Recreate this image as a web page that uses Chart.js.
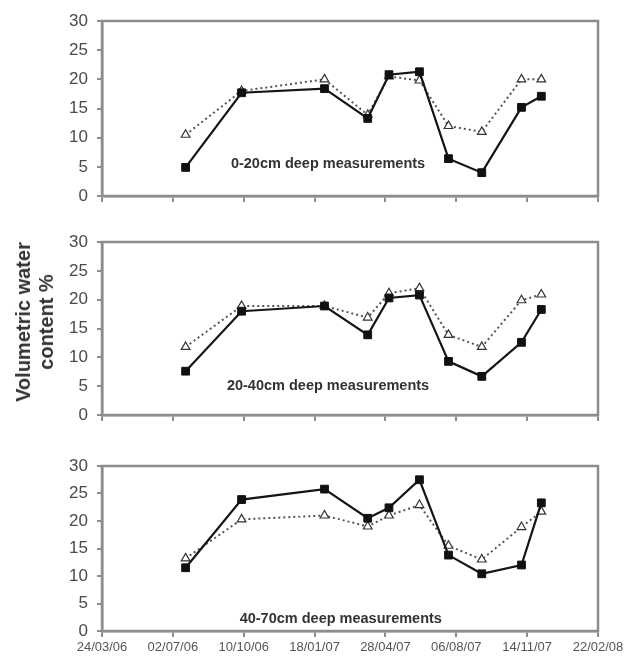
<!DOCTYPE html>
<html>
<head>
<meta charset="utf-8">
<script src="https://cdn.jsdelivr.net/npm/chart.js@4.4.1/dist/chart.umd.min.js"></script>
<style>
html,body{margin:0;padding:0;background:#fff;}
#wrap{position:relative;width:624px;height:656px;overflow:hidden;font-family:"Liberation Sans",Arial,sans-serif;}
#wrap canvas{position:absolute;left:0;}
#ytitle{position:absolute;left:35px;top:322px;transform:translate(-50%,-50%) rotate(-90deg);font-weight:bold;font-size:20px;line-height:23px;text-align:center;white-space:nowrap;color:#333;}
</style>
</head>
<body>
<div id="wrap">
  <canvas id="c1" width="624" height="215" style="top:0px"></canvas>
  <canvas id="c2" width="624" height="220" style="top:215px"></canvas>
  <canvas id="c3" width="624" height="221" style="top:435px"></canvas>
  <div id="ytitle">Volumetric water<br>content %</div>
</div>
<script>
// ---- data ----
const axisStart = '2006-03-24';
const xTickLabels = ['24/03/06','02/07/06','10/10/06','18/01/07','28/04/07','06/08/07','14/11/07','22/02/08'];
const sampleDates = ['2006-07-20','2006-10-07','2007-02-01','2007-04-03','2007-05-03','2007-06-15','2007-07-26','2007-09-11','2007-11-06','2007-12-04'];

const depth0to20Solid   = [4.9, 17.7, 18.4, 13.3, 20.8, 21.3, 6.4, 4.0, 15.2, 17.1];
const depth0to20Dotted  = [10.5, 18.0, 20.0, 13.9, 20.5, 19.8, 12.0, 11.0, 20.0, 20.0];
const depth20to40Solid  = [7.6, 18.0, 18.9, 13.9, 20.3, 20.8, 9.3, 6.7, 12.6, 18.3];
const depth20to40Dotted = [11.8, 18.9, 18.9, 16.9, 21.1, 22.0, 13.9, 11.8, 19.9, 20.9];
const depth40to70Solid  = [11.5, 23.9, 25.8, 20.5, 22.4, 27.5, 13.8, 10.4, 12.0, 23.3];
const depth40to70Dotted = [13.2, 20.3, 21.0, 19.0, 21.0, 22.9, 15.5, 13.0, 18.9, 21.7];

const panelLabels = ['0-20cm deep measurements','20-40cm deep measurements','40-70cm deep measurements'];

// ---- helpers ----
const DAY = 86400000;
function toUTC(s){const p=s.split('-').map(Number);return Date.UTC(p[0],p[1]-1,p[2]);}
const t0 = toUTC(axisStart);
const sampleDays = sampleDates.map(d => Math.round((toUTC(d)-t0)/DAY));
function pts(vals){return vals.map((v,i)=>({x:sampleDays[i], y:v}));}

const frameColor = '#8d8d8d';
const framePlugin = {
  id:'frame',
  beforeDatasetsDraw(chart){
    const a = chart.chartArea, ctx = chart.ctx;
    ctx.save();
    ctx.strokeStyle = frameColor;
    ctx.lineWidth = 2.5;
    ctx.strokeRect(a.left, a.top, a.right-a.left, a.bottom-a.top);
    ctx.restore();
  },
  afterDatasetsDraw(chart, args, opts){
    if(!opts.text) return;
    const ctx = chart.ctx;
    const x = chart.scales.x.getPixelForValue(opts.at[0]);
    const y = chart.scales.y.getPixelForValue(opts.at[1]);
    ctx.save();
    ctx.font = 'bold 14.5px "Liberation Sans", Arial, sans-serif';
    ctx.fillStyle = '#333';
    ctx.textAlign = 'center';
    ctx.textBaseline = 'middle';
    ctx.fillText(opts.text, x, y);
    ctx.restore();
  }
};

function makeChart(id, solid, dotted, label, labelAt, topPad, xHeight, showX){
  return new Chart(document.getElementById(id), {
    type:'line',
    data:{datasets:[
      {data:pts(solid), borderColor:'#151515', borderWidth:2.2, pointStyle:'rect', pointRadius:5.5,
       pointBackgroundColor:'#111', pointBorderColor:'#111', pointBorderWidth:1, tension:0, fill:false},
      {data:pts(dotted), borderColor:'#555', borderWidth:2, borderDash:[2,3], pointStyle:'triangle', pointRadius:5,
       pointBackgroundColor:'#fff', pointBorderColor:'#333', pointBorderWidth:1.2, tension:0, fill:false}
    ]},
    options:{
      responsive:false, devicePixelRatio:1, animation:false,
      layout:{padding:{top:topPad, right:26, left:0, bottom:0}},
      plugins:{legend:{display:false}, tooltip:{enabled:false}, frame:{text:label, at:labelAt}},
      scales:{
        x:{type:'linear', min:0, max:700,
           grid:{drawOnChartArea:false, drawTicks:true, tickLength:6, color:frameColor, lineWidth:2},
           border:{color:frameColor, width:2.5},
           ticks:{stepSize:100, autoSkip:false, maxRotation:0, padding:3, color: showX ? '#555' : 'rgba(0,0,0,0)',
                  font:{size:13, family:'"Liberation Sans", Arial, sans-serif'},
                  callback:(v)=> xTickLabels[Math.round(v/100)] ?? ''},
           afterFit(s){s.height = xHeight; s.paddingLeft = 0; s.paddingRight = 0;}
        },
        y:{min:0, max:30,
           grid:{drawOnChartArea:false, drawTicks:true, tickLength:5, color:frameColor, lineWidth:2},
           border:{color:frameColor, width:2.5},
           ticks:{stepSize:5, padding:9, color:'#4a4a4a', font:{size:17, family:'"Liberation Sans", Arial, sans-serif'}},
           afterFit(s){s.width = 102; s.paddingTop = 0; s.paddingBottom = 0;}
        }
      }
    },
    plugins:[framePlugin]
  });
}

makeChart('c1', depth0to20Solid, depth0to20Dotted, panelLabels[0], [319, 5.5], 21, 19, false);
makeChart('c2', depth20to40Solid, depth20to40Dotted, panelLabels[1], [319, 5.1], 27, 20, false);
makeChart('c3', depth40to70Solid, depth40to70Dotted, panelLabels[2], [337, 2.15], 31, 25, true);
</script>
</body>
</html>
